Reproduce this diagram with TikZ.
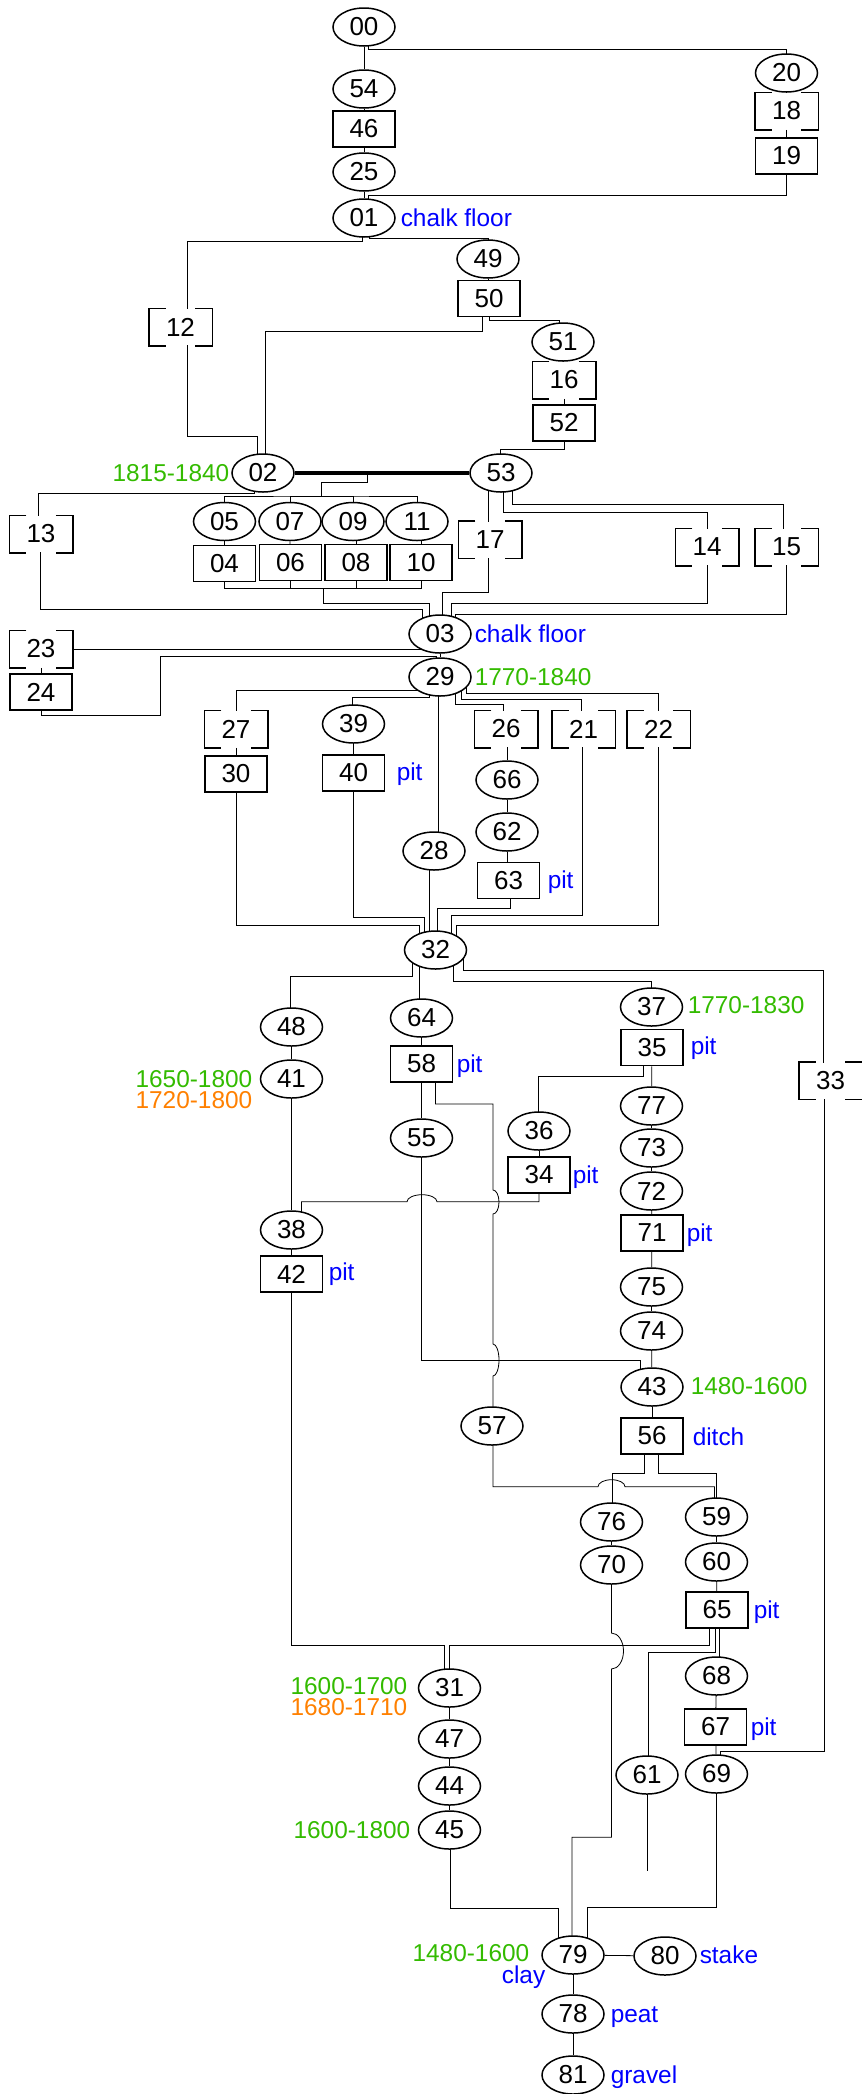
\documentclass[tikz,border=0pt]{standalone}
\usepackage{fontspec}
\setmainfont{Liberation Sans}
\usetikzlibrary{calc,backgrounds,shapes.geometric}
\definecolor{lblue}{RGB}{0,0,255}
\definecolor{lgreen}{RGB}{51,187,0}
\definecolor{lorange}{RGB}{255,128,0}
\newcommand\mybrak[1]{%
  \draw ([xshift=8.5pt]#1.north west) -- (#1.north west) -- (#1.south west) -- ([xshift=8.5pt]#1.south west);
  \draw ([xshift=-8.5pt]#1.north east) -- (#1.north east) -- (#1.south east) -- ([xshift=-8.5pt]#1.south east);}
\newcommand\elb[5]{\draw ($(#1)+(#2,0)$) |- ($(#3)+(#4,-#5)$) -- ($(#3)+(#4,0)$);}
\begin{document}
\begin{tikzpicture}[x=0.5pt,y=-0.5pt,line width=0.75pt,
  nfont/.style={font=\fontsize{13}{15}\selectfont},
  ell/.style={draw,ellipse,fill=white,minimum width=31pt,minimum height=19pt,inner sep=0pt,nfont},
  elln/.style={draw,ellipse,minimum width=31pt,minimum height=19pt,inner sep=0pt,nfont},
  bx/.style={draw,rectangle,fill=white,minimum width=31pt,minimum height=18pt,inner sep=0pt,nfont},
  brk/.style={rectangle,fill=white,minimum width=31pt,minimum height=18pt,inner sep=0pt,nfont},
  lab/.style={inner sep=0pt,font=\fontsize{12.2}{14}\selectfont,text height=8.7pt,text depth=0pt},
  lb/.style={lab,text=lblue},
  lg/.style={lab,text=lgreen},
  lo/.style={lab,text=lorange}]
\useasboundingbox (0,0) rectangle (862,2094);
% nodes
\node[ell] (n00) at (364,27) {00};
\node[ell] (n54) at (364,89) {54};
\node[bx]  (n46) at (364,129) {46};
\node[ell] (n25) at (364,172) {25};
\node[ell] (n20) at (786.5,73) {20};
\node[brk] (n18) at (786.5,111) {18};
\node[bx]  (n19) at (786.5,156) {19};
\node[ell] (n01) at (364,218) {01};
\node[ell] (n49) at (488,259) {49};
\node[bx]  (n50) at (489,298.5) {50};
\node[brk] (n12) at (180.5,327) {12};
\node[ell] (n51) at (563,342) {51};
\node[brk] (n16) at (564,380) {16};
\node[bx]  (n52) at (564,423) {52};
\node[ell] (n02) at (263,473) {02};
\node[ell] (n53) at (501,473) {53};
\node[brk] (n13) at (41,534) {13};
\node[elln] (n05) at (224.5,521.5) {05};
\node[elln] (n07) at (290,521.5) {07};
\node[elln] (n09) at (353,521.5) {09};
\node[elln] (n11) at (417,521.5) {11};
\node[bx]  (n04) at (224.5,563.5) {04};
\node[bx]  (n06) at (290.5,562.5) {06};
\node[bx]  (n08) at (356,562.5) {08};
\node[bx]  (n10) at (421,562.5) {10};
\node[brk] (n17) at (490,539.5) {17};
\node[brk] (n14) at (707,547) {14};
\node[brk] (n15) at (786.5,547) {15};
\node[ell] (n03) at (440,634) {03};
\node[brk] (n23) at (41,649) {23};
\node[bx]  (n24) at (41,692) {24};
\node[ell] (n29) at (440,677) {29};
\node[brk] (n27) at (236,729) {27};
\node[ell] (n39) at (353.5,724) {39};
\node[brk] (n26) at (506,729) {26};
\node[brk] (n21) at (583.5,729) {21};
\node[brk] (n22) at (658.5,729) {22};
\node[bx]  (n30) at (236,774) {30};
\node[bx]  (n40) at (353.5,773) {40};
\node[ell] (n66) at (507,780) {66};
\node[ell] (n62) at (507,832) {62};
\node[ell] (n28) at (434,851) {28};
\node[bx]  (n63) at (508.5,880.5) {63};
\node[ell] (n32) at (435.5,950) {32};
\node[ell] (n48) at (291.5,1027) {48};
\node[ell] (n64) at (421.5,1018) {64};
\node[ell] (n37) at (651.5,1007) {37};
\node[bx]  (n35) at (652,1047.5) {35};
\node[bx]  (n58) at (421.5,1064) {58};
\node[ell] (n41) at (291.5,1079) {41};
\node[brk] (n33) at (830.5,1080.5) {33};
\node[ell] (n77) at (651.5,1106) {77};
\node[ell] (n55) at (421.5,1138) {55};
\node[ell] (n36) at (539,1131) {36};
\node[ell] (n73) at (651.5,1148) {73};
\node[bx]  (n34) at (539,1175) {34};
\node[ell] (n72) at (651.5,1191) {72};
\node[ell] (n38) at (291.5,1230) {38};
\node[bx]  (n71) at (652,1233) {71};
\node[bx]  (n42) at (291.5,1274) {42};
\node[ell] (n75) at (651.5,1287) {75};
\node[ell] (n74) at (651.5,1331) {74};
\node[ell] (n43) at (652,1387) {43};
\node[ell] (n57) at (492,1426) {57};
\node[bx]  (n56) at (652,1436) {56};
\node[ell] (n76) at (611.5,1522) {76};
\node[ell] (n59) at (716.5,1517) {59};
\node[ell] (n70) at (611.5,1565) {70};
\node[ell] (n60) at (716.5,1562) {60};
\node[bx]  (n65) at (717,1610) {65};
\node[ell] (n68) at (716.5,1676) {68};
\node[ell] (n31) at (449.5,1688) {31};
\node[bx]  (n67) at (715.5,1727) {67};
\node[ell] (n47) at (449.5,1739) {47};
\node[ell] (n61) at (647,1775) {61};
\node[ell] (n69) at (716.5,1774) {69};
\node[ell] (n44) at (449.5,1786) {44};
\node[ell] (n45) at (449.5,1830) {45};
\node[ell] (n79) at (573,1955) {79};
\node[ell] (n80) at (665,1956) {80};
\node[ell] (n78) at (573,2014) {78};
\node[ell] (n81) at (573,2075) {81};
% brackets
\mybrak{n18}\mybrak{n12}\mybrak{n16}\mybrak{n13}\mybrak{n17}\mybrak{n14}\mybrak{n15}
\mybrak{n23}\mybrak{n27}\mybrak{n26}\mybrak{n21}\mybrak{n22}\mybrak{n33}
% labels
\node[lb,anchor=west] (t01) at (400,218) {chalk floor};
\node[lg,anchor=east] (t02) at (230,473) {1815-1840};
\node[lb,anchor=west] (t03) at (474,634) {chalk floor};
\node[lg,anchor=west] (t29) at (474,677) {1770-1840};
\node[lb,anchor=west] (t40) at (396,772) {pit};
\node[lb,anchor=west] (t63) at (547,880) {pit};
\node[lg,anchor=west] (t37) at (687,1005) {1770-1830};
\node[lb,anchor=west] (t35) at (690,1046) {pit};
\node[lb,anchor=west] (t58) at (456,1064) {pit};
\node[lg,anchor=east] (t41a) at (253,1079) {1650-1800};
\node[lo,anchor=east] (t41b) at (253,1100) {1720-1800};
\node[lb,anchor=west] (t34) at (572,1175) {pit};
\node[lb,anchor=west] (t71) at (686,1233) {pit};
\node[lb,anchor=west] (t42) at (328,1272) {pit};
\node[lg,anchor=west] (t43) at (690,1386) {1480-1600};
\node[lb,anchor=west] (t56) at (692,1437) {ditch};
\node[lb,anchor=west] (t65) at (753,1610) {pit};
\node[lg,anchor=east] (t31a) at (408,1686) {1600-1700};
\node[lo,anchor=east] (t31b) at (408,1707) {1680-1710};
\node[lb,anchor=west] (t67) at (750,1727) {pit};
\node[lg,anchor=east] (t45) at (411,1830) {1600-1800};
\node[lg,anchor=east] (t79) at (530,1953) {1480-1600};
\node[lb,anchor=east] (t79b) at (546,1975) {clay};
\node[lb,anchor=west] (t80) at (699,1955) {stake};
\node[lb,anchor=west] (t78) at (610,2014) {peat};
\node[lb,anchor=west] (t81) at (610,2075) {gravel};
% connectors
\begin{pgfonlayer}{background}
\elb{n00}{4}{n20}{0}{24}
\draw (n00) -- (n54); \draw (n54) -- (n46); \draw (n46) -- (n25); \draw (n25) -- (n01);
\draw (n20) -- (n18); \draw (n18) -- (n19);
\elb{n19}{0}{n01}{4}{23}
\elb{n01}{-2}{n12}{6.5}{86}
\elb{n01}{5}{n49}{0}{21}
\draw (n49) -- (n50);
\elb{n50}{0}{n51}{-3.5}{22}
\elb{n50}{-6.5}{n02}{2}{142}
\draw (n51) -- (n16); \draw (n16) -- (n52);
\elb{n52}{0}{n53}{-1}{24}
\elb{n12}{6.5}{n02}{-6}{37}
\draw[line width=1.8pt] (n02) -- (n53);
\coordinate (j1) at ($(n02)!0.437!(n53)$);
\coordinate (bar1) at ($(n07)!0.5!(n09)+(0,-25.5)$);
\draw (j1) -- ++(0,9) -| (bar1);
\draw (n05.north) |- (bar1) -| (n11.north);
\draw (n07.north) |- (bar1); \draw (n09.north) |- (bar1);
\draw (n05.south) -- (n04);
\draw (n07.south) -- (n06);
\draw ($(n09.south)+(3,0)$) -- (n08);
\draw ($(n11.south)+(4,0)$) -- (n10);
\coordinate (bar2) at ($(n06)!0.5!(n08)+(0,25.5)$);
\draw (n04) |- (bar2) -| (n10);
\draw (n06) |- (bar2); \draw (n08) |- (bar2);
\draw (bar2) |- ($(n03)+(-11,-31)$) -- ($(n03)+(-11,0)$);
\elb{n02}{-9}{n13}{-2.5}{41}
\elb{n13}{-1}{n03}{-18}{25}
\draw ($(n53)+(-13,0)$) -- ($(n17)+(-2,0)$);
\elb{n53}{2}{n14}{0.5}{35}
\elb{n53}{11}{n15}{-3.5}{43}
\elb{n17}{-2}{n03}{2.5}{42}
\elb{n14}{0.5}{n03}{11}{31}
\elb{n15}{-0.5}{n03}{15}{20}
\draw (n23) -- (n23 -| n03);
\draw (n23) -- (n24);
\draw (n24.center) -- ++(0,23) -- ++(119.5,0) |- ($(n29)+(-4,-21)$) -- ($(n29)+(-4,0)$);
\draw (n03) -- (n29);
\elb{n29}{-14}{n27}{0}{39}
\elb{n29}{-11}{n39}{-1}{27}
\draw ($(n29)+(-2,0)$) -- ($(n28)+(4,0)$);
\elb{n29}{15}{n26}{-3}{25}
\elb{n29}{21}{n21}{-2}{30}
\elb{n29}{26}{n22}{0}{36}
\draw (n27) -- (n30); \draw (n39) -- (n40);
\draw ($(n26)+(1,0)$) -- (n66); \draw (n66) -- (n62); \draw (n62) -- ($(n63)+(-1.5,0)$);
\elb{n30}{0}{n32}{-16.5}{25}
\elb{n40}{0}{n32}{-11}{33}
\draw ($(n28)+(-5,0)$) -- ($(n32)+(-6.5,0)$);
\elb{n63}{1.5}{n32}{1.5}{42}
\elb{n21}{-1}{n32}{15.5}{35}
\elb{n22}{0}{n32}{20.5}{25}
\elb{n32}{-23}{n48}{-1.5}{51}
\draw ($(n32)+(-16.5,0)$) -- ($(n64)+(-2.5,0)$);
\elb{n32}{18}{n37}{0}{26}
\elb{n32}{28}{n33}{-7.5}{110.5}
\draw (n48) -- (n41); \draw (n41) -- (n38); \draw (n38) -- (n42);
\draw (n64) -- (n58); \draw (n58) -- (n55);
\draw ($(n58)+(14,0)$) |- ($(n57)+(1,-322)$) -- ($(n57)+(1,-236)$)
   arc[start angle=90,end angle=-90,x radius=3pt,y radius=6pt]
   -- ($(n57)+(1,-82)$)
   arc[start angle=90,end angle=-90,x radius=3pt,y radius=8pt]
   -- ($(n57)+(1,0)$);
\draw (n34.center) -- ++(0,26.7) -- ($(n55)+(15.5,63.7)$)
   arc[start angle=0,end angle=180,x radius=7.5pt,y radius=3.5pt]
   -- ($(n38)+(10,-28.3)$) -- ($(n38)+(10,0)$);
\elb{n55}{0}{n43}{-11.5}{27}
\elb{n35}{-9}{n36}{-1}{55}
\draw (n35) -- (n77); \draw (n77) -- (n73); \draw (n73) -- (n72); \draw (n72) -- (n71);
\draw (n71) -- (n75); \draw (n75) -- (n74); \draw (n74) -- (n43); \draw (n43) -- (n56);
\draw (n36) -- (n34);
\draw ($(n57)+(1,0)$) -- ++(0,60.7) -- ($(n76)+(-13.5,-35.3)$)
   arc[start angle=180,end angle=0,x radius=6.75pt,y radius=3.5pt]
   -- ($(n59)+(-2,-30.3)$) -- ($(n59)+(-2,0)$);
\elb{n56}{-8}{n76}{0.5}{49}
\elb{n56}{6.5}{n59}{0}{44}
\draw (n76) -- (n70); \draw (n59) -- (n60); \draw (n60) -- (n65);
\draw (n70.center) -- ++(0,68)
   arc[start angle=90,end angle=-90,x radius=6pt,y radius=9pt]
   -- ($(n79)+(38.5,-117.7)$) -- ($(n79)+(-1,-117.7)$) -- ($(n79)+(-1,0)$);
\elb{n42}{0}{n31}{-5.5}{43}
\elb{n65}{-8}{n31}{0}{43}
\elb{n65}{-2}{n61}{1.5}{123}
\draw ($(n65)+(2,0)$) -- ($(n68)+(2.5,0)$);
\draw (n68) -- (n67); \draw (n67) -- (n69);
\elb{n33}{-6}{n69}{3.5}{23}
\coordinate (end61) at ($(n61)+(0.5,96)$);
\draw ($(n61)+(0.5,0)$) -- (end61);
\elb{n69}{0}{n79}{14}{48}
\elb{n45}{1}{n79}{-15}{47}
\draw (n31) -- (n47); \draw (n47) -- (n44); \draw (n44) -- (n45);
\draw (n79) -- (n80); \draw (n79) -- (n78); \draw (n78) -- (n81);
\end{pgfonlayer}
\end{tikzpicture}
\end{document}
